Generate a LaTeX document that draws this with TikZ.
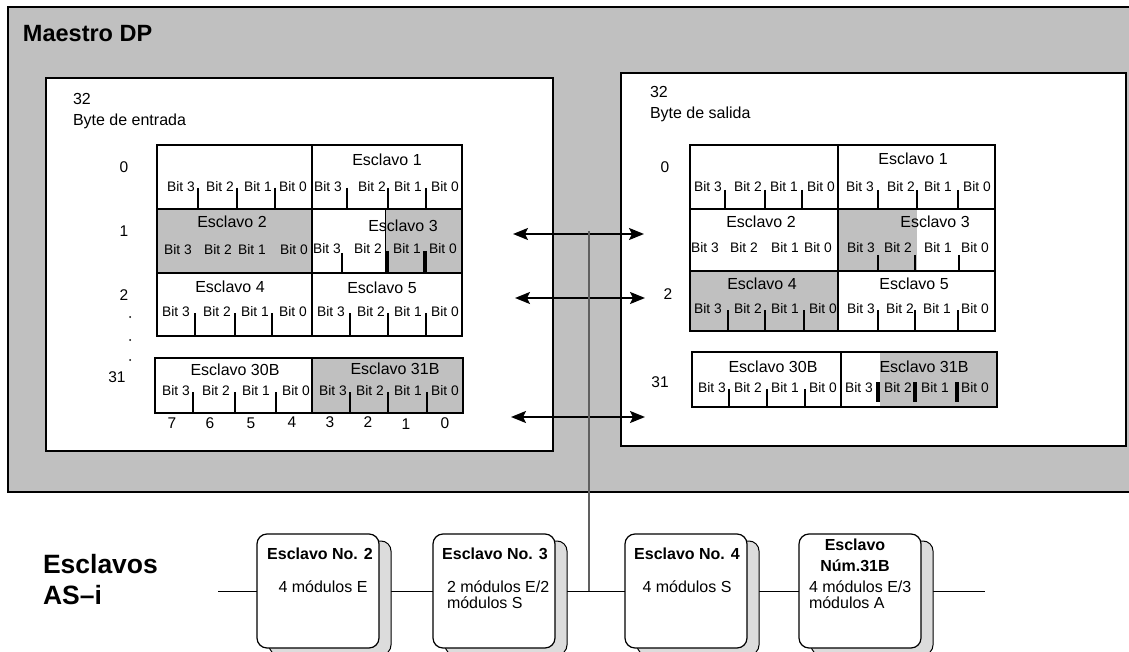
\documentclass[tikz,border=0pt]{standalone}
\usepackage{fontspec}
\setmainfont{Liberation Sans}
\usetikzlibrary{arrows.meta,shadows}

\definecolor{panel}{HTML}{C0C0C0}
\definecolor{shade}{HTML}{DCDCDC}
\definecolor{wire}{HTML}{606060}

\newcommand\fsz[1]{\fontsize{#1}{#1}\selectfont}

% one row of bit labels: prefix, y, x of Bit 3 .. Bit 0
\newcommand\bitrow[6]{%
  \node[bitlbl] (#1-3) at (#3,#2) {Bit 3};
  \node[bitlbl] (#1-2) at (#4,#2) {Bit 2};
  \node[bitlbl] (#1-1) at (#5,#2) {Bit 1};
  \node[bitlbl] (#1-0) at (#6,#2) {Bit 0};
}
% bit separators: style, top y, bottom y, list of x
\newcommand\bitticks[4]{%
  \foreach \tx in {#4} \draw[#1] (\tx,#2) -- (\tx,#3);
}

\tikzset{
  every node/.style={inner sep=0pt, outer sep=0pt},
  title/.style={font=\bfseries\fsz{23.5}, anchor=base west},
  hdr/.style={font=\fsz{16}, anchor=base west},
  slavelbl/.style={font=\fsz{16}},
  bitlbl/.style={font=\fsz{13.8}},
  idx/.style={font=\fsz{15.5}},
  frameline/.style={line width=2.4pt},
  bittick/.style={line width=2pt},
  heavytick/.style={line width=3.4pt},
  dblarrow/.style={line width=2pt,
    {Stealth[length=15pt,width=12pt,inset=3pt]}-{Stealth[length=15pt,width=12pt,inset=3pt]}},
  slave/.style={draw=black, line width=1.2pt, fill=white, rounded corners=10pt,
    minimum width=122pt, minimum height=114pt,
    copy shadow={shadow xshift=12pt, shadow yshift=-7pt, fill=shade, draw=black, line width=1pt}},
  slavehead/.style={font=\bfseries\fsz{16}},
  slavetext/.style={font=\fsz{16}},
}

\begin{document}
\begin{tikzpicture}[x=1pt,y=-1pt]
\clip (0,0) rectangle (1129,652);
\fill[white] (0,0) rectangle (1129,652);

% master panel and the two memory areas
\draw[frameline, fill=panel] (8,7) rectangle (1145,492);
\node[title] (master) at (23,42) {Maestro DP};
\draw[frameline, fill=white] (46,78) rectangle (553,451);
\draw[frameline, fill=white] (621,73) rectangle (1126,446);

\node[hdr] (in32) at (73,105) {32};
\node[hdr] (inlbl) at (73,126) {Byte de entrada};
\node[hdr] (out32) at (650,98) {32};
\node[hdr] (outlbl) at (650,119) {Byte de salida};

% ---------------- input bytes ----------------
\fill[panel] (157,209) rectangle (312,273);
\fill[panel] (385,209) rectangle (462,273);
\fill[panel] (312,358) rectangle (463,413);
\draw[line width=1pt] (385,209) -- (385,273);
\draw[frameline] (157,145) rectangle (462,336);
\draw[frameline] (157,209) -- (462,209);
\draw[frameline] (157,273) -- (462,273);
\draw[frameline] (312,145) -- (312,336);
\draw[frameline] (155,358) rectangle (463,413);
\draw[frameline] (312,358) -- (312,413);

\bitticks{bittick}{188}{209}{198,237,275,347,388,426}
\bitticks{bittick}{253}{273}{342}
\bitticks{heavytick}{251}{273}{387,425}
\bitticks{bittick}{313}{336}{195,235,272,350,388,426}
\bitticks{bittick}{392}{413}{193,235,276,350,388,427}

\node[slavelbl] (ie1) at (387,160) {Esclavo 1};
\node[slavelbl] (ie2) at (232,222) {Esclavo 2};
\node[slavelbl] (ie3) at (403,226) {Esclavo 3};
\node[slavelbl] (ie4) at (230,287) {Esclavo 4};
\node[slavelbl] (ie5) at (382,288) {Esclavo 5};
\node[slavelbl] (ie30) at (235,370) {Esclavo 30B};
\node[slavelbl] (ie31) at (395,369) {Esclavo 31B};

\bitrow{ia}{187}{181}{220}{258}{293}
\bitrow{ib}{187}{328}{372}{408}{445}
\bitrow{ic}{250}{178}{218}{252}{294}
\bitrow{id}{249}{327}{368}{407}{443}
\bitrow{ie}{312}{176}{217}{255}{293}
\bitrow{if}{312}{331}{371}{408}{445}
\bitrow{ig}{391}{176}{216}{256}{296}
\bitrow{ih}{391}{333}{370}{408}{445}

\node[idx] (ir0) at (124,167) {0};
\node[idx] (ir1) at (124,231) {1};
\node[idx] (ir2) at (124,295) {2};
\node[idx] (ir31) at (117,377) {31};
\foreach \dy [count=\i] in {317,340,360}
  \fill (130,\dy) circle (1pt) coordinate (idot\i);

\foreach \n/\bx/\by in {7/172/423, 6/210/423, 5/251/423, 4/292/422,
                        3/330/422, 2/368/422, 1/406/424, 0/445/423}
  \node[idx] (bitno\n) at (\bx,\by) {\n};

% ---------------- output bytes ----------------
\fill[panel] (838,209) rectangle (917,271);
\fill[panel] (690,271) rectangle (838,331);
\fill[panel] (880,352) rectangle (997,407);
\draw[frameline] (690,145) rectangle (995,331);
\draw[frameline] (690,209) -- (995,209);
\draw[frameline] (690,271) -- (995,271);
\draw[frameline] (838,145) -- (838,331);
\draw[frameline] (692,352) rectangle (997,407);
\draw[frameline] (841,352) -- (841,407);

\bitticks{bittick}{190}{209}{725,765,802,878,917,958}
\bitticks{bittick}{255}{271}{878,915,959}
\bitticks{bittick}{310}{331}{728,765,804,878,915,958}
\bitticks{bittick}{389}{407}{729,767,805}
\bitticks{heavytick}{382}{402}{878,915,957}

\node[slavelbl] (oe1) at (913,159) {Esclavo 1};
\node[slavelbl] (oe2) at (761,222) {Esclavo 2};
\node[slavelbl] (oe3) at (935,222) {Esclavo 3};
\node[slavelbl] (oe4) at (762,284) {Esclavo 4};
\node[slavelbl] (oe5) at (914,284) {Esclavo 5};
\node[slavelbl] (oe30) at (773,367) {Esclavo 30B};
\node[slavelbl] (oe31) at (924,367) {Esclavo 31B};

\bitrow{oa}{187}{708}{748}{784}{821}
\bitrow{ob}{187}{860}{901}{938}{977}
\bitrow{oc}{248}{705}{744}{785}{818}
\bitrow{od}{248}{861}{898}{938}{975}
\bitrow{oe}{309}{708}{748}{785}{823}
\bitrow{of}{309}{861}{900}{937}{975}
\bitrow{og}{388}{712}{748}{785}{823}
\bitrow{oh}{388}{859}{898}{935}{975}

\node[idx] (or0) at (665,167) {0};
\node[idx] (or2) at (668,294) {2};
\node[idx] (or31) at (660,382) {31};

% ---------------- data exchange ----------------
\coordinate (a1l) at (513,234); \coordinate (a1r) at (644,234);
\coordinate (a2l) at (515,298); \coordinate (a2r) at (645,298);
\coordinate (a3l) at (511,417); \coordinate (a3r) at (645,417);
\draw[dblarrow] (a1l) -- (a1r);
\draw[dblarrow] (a2l) -- (a2r);
\draw[dblarrow] (a3l) -- (a3r);

% ---------------- AS-i line ----------------
\coordinate (tapTop) at (589,231);
\coordinate (tap) at (589,591);
\coordinate (busL) at (218,591);
\coordinate (busR) at (985,591);
\draw[wire, line width=1.5pt] (tapTop) -- (tap);
\draw[line width=1pt] (busL) -- (busR);

\node[font=\bfseries\fsz{26.5}, anchor=base west] (asi1) at (43,573) {Esclavos};
\node[font=\bfseries\fsz{26.5}, anchor=base west] (asi2) at (43,604) {AS--i};

\node[slave] (s2) at (318,591) {};
\node[slave] (s3) at (494,591) {};
\node[slave] (s4) at (686,591) {};
\node[slave] (s31) at (860,591) {};

\node[slavehead] (s2h) at (320,554) {Esclavo No. 2};
\node[slavetext] (s2t) at (323,587) {4 módulos E};

\node[slavehead] (s3h) at (495,554) {Esclavo No. 3};
\node[slavetext, anchor=west] (s3t1) at (447,587) {2 módulos E/2};
\node[slavetext, anchor=west] (s3t2) at (447,603) {módulos S};

\node[slavehead] (s4h) at (687,554) {Esclavo No. 4};
\node[slavetext] (s4t) at (687,587) {4 módulos S};

\node[slavehead] (s31h1) at (855,545) {Esclavo};
\node[slavehead] (s31h2) at (855,566) {Núm.31B};
\node[slavetext, anchor=west] (s31t1) at (809,587) {4 módulos E/3};
\node[slavetext, anchor=west] (s31t2) at (809,603) {módulos A};
\end{tikzpicture}
\end{document}
